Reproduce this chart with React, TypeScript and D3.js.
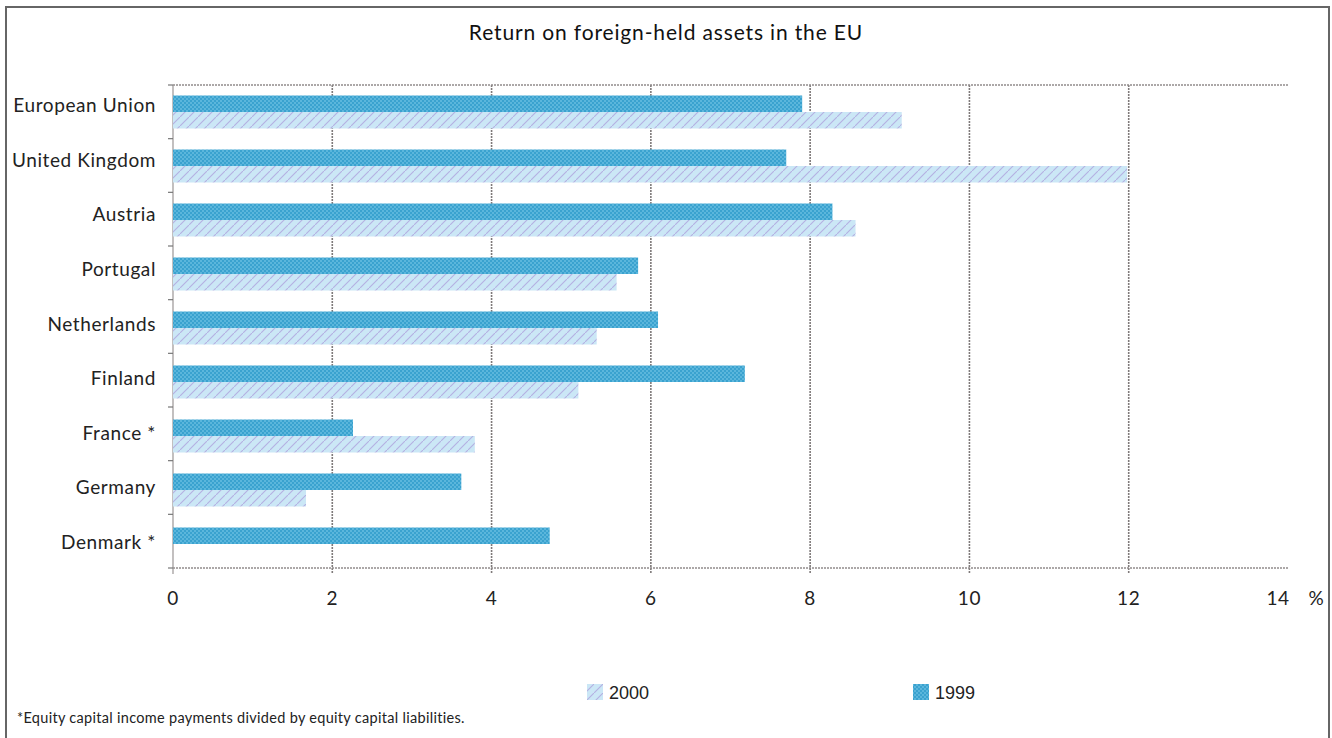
import React from "react";
import * as d3 from "d3";

const countries = ["European Union", "United Kingdom", "Austria", "Portugal", "Netherlands", "Finland", "France *", "Germany", "Denmark *"];
const values1999 = [7.9, 7.7, 8.28, 5.84, 6.09, 7.18, 2.26, 3.62, 4.73];
const values2000 = [9.15, 11.98, 8.57, 5.57, 5.32, 5.09, 3.79, 1.67, 0];
const xTicks = [0, 2, 4, 6, 8, 10, 12, 14];
const seriesNames = ["2000", "1999"];

const W = 1332, H = 738;
const left = 173, right = 1288, top = 85, bottom = 568;
const futura = "'Lato', 'Noto Sans', sans-serif";

export default function App() {
  const x = d3.scaleLinear().domain([0, 14]).range([left, right]);
  const y = d3.scaleBand().domain(countries).range([top, bottom + 3]).paddingInner(0).paddingOuter(0);
  const yLabel = d3.scaleBand().domain(countries).range([80, 571.5]);
  const bw = y.bandwidth();
  const barH = 16.5;
  const rowBounds = d3.range(countries.length + 1).map(i => top + i * ((bottom - top) / countries.length));

  return (
    <svg width={W} height={H} style={{ position: "absolute", left: 0, top: 0, background: "#fff" }}>
      <defs>
        <pattern id="p1999" width="4" height="4" patternUnits="userSpaceOnUse">
          <rect width="4" height="4" fill="#3aa2cf" />
          <rect x="0" y="0" width="2" height="2" fill="#5bb6dc" />
          <rect x="2" y="2" width="2" height="2" fill="#5bb6dc" />
        </pattern>
        <pattern id="p2000" width="9" height="9" patternUnits="userSpaceOnUse">
          <rect width="9" height="9" fill="#cbe7f6" />
          <path d="M0,9 L9,0" stroke="#b4b0e2" strokeWidth="1.1" />
        </pattern>
      </defs>
      {/* frame */}
      <path d={`M6,${H + 5} L6,7 L1329,7 L1329,${H + 5}`} fill="none" stroke="#666" strokeWidth={2} />
      <text x={666} y={40} textAnchor="middle" fontFamily={futura} fontSize={21} letterSpacing={0.85} fill="#111">Return on foreign-held assets in the EU</text>

      {/* grid */}
      {xTicks.slice(1, -1).map(t => (
        <line key={"g" + t} x1={x(t)} x2={x(t)} y1={top} y2={bottom + 6} stroke="#7f7a7a" strokeWidth={1.6} strokeDasharray="2,1" />
      ))}
      <line x1={left} x2={right} y1={top} y2={top} stroke="#918c8c" strokeWidth={1.6} strokeDasharray="2,1" />
      <line x1={left} x2={right} y1={bottom} y2={bottom} stroke="#918c8c" strokeWidth={1.6} strokeDasharray="2,1" />
      <line x1={left} x2={left} y1={top} y2={bottom + 6} stroke="#9a9595" strokeWidth={1.2} />
      {rowBounds.map((b, i) => (
        <line key={"rb" + i} x1={left - 5} x2={left} y1={b} y2={b} stroke="#777" strokeWidth={1.2} />
      ))}

      {/* bars */}
      {countries.map((c, i) => {
        const y0 = (y(c) as number) + bw / 2 - barH;
        return (
          <g key={c}>
            <rect x={x(0)} y={y0} width={x(values1999[i]) - x(0)} height={barH} fill="url(#p1999)" />
            {values2000[i] > 0 && (
              <rect x={x(0)} y={y0 + barH} width={x(values2000[i]) - x(0)} height={barH} fill="url(#p2000)" />
            )}
            <text x={156} y={(yLabel(c) as number) + yLabel.bandwidth() / 2} textAnchor="end" fontFamily={futura} fontSize={19} letterSpacing={0.6} fill="#222" dominantBaseline="middle">{c}</text>
          </g>
        );
      })}

      {/* x tick labels */}
      {xTicks.map(t => (
        <text key={"t" + t} x={x(t) - (t === 14 ? 10 : 0)} y={605} textAnchor="middle" fontFamily={futura} fontSize={19} letterSpacing={0.6} fill="#222">{t}</text>
      ))}
      <text x={1316} y={605} textAnchor="middle" fontFamily={futura} fontSize={19} fill="#222">%</text>

      {/* legend */}
      <rect x={587} y={684} width={16} height={16} fill="url(#p2000)" />
      <text x={609} y={699} fontFamily="'Liberation Sans', Arial, sans-serif" fontSize={18} fill="#222">{seriesNames[0]}</text>
      <rect x={913} y={684} width={16} height={16} fill="url(#p1999)" />
      <text x={935} y={699} fontFamily="'Liberation Sans', Arial, sans-serif" fontSize={18} fill="#222">{seriesNames[1]}</text>

      <text x={17} y={723} fontFamily={futura} fontSize={14.5} letterSpacing={0.3} fill="#222">*Equity capital income payments divided by equity capital liabilities.</text>
    </svg>
  );
}
